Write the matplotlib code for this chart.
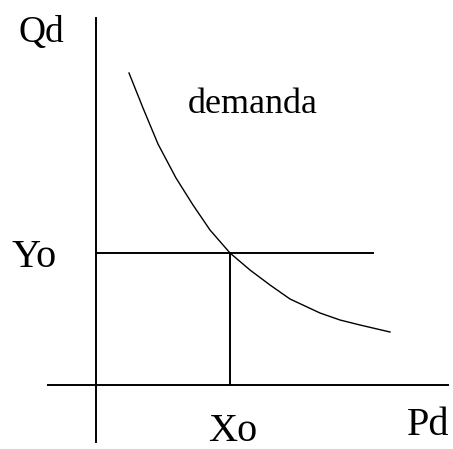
import matplotlib.pyplot as plt

# Demand curve (origin where the two axes cross)
price = [33, 47, 62, 80, 97, 114, 134, 154, 174, 194, 224, 244, 264, 294]
quantity = [312, 277, 241, 207, 180, 155, 132, 115, 100, 86, 72, 65, 60, 53]

# Chosen point on the curve
x0, y0 = 134, 132

plt.rcParams['font.family'] = ['Liberation Serif', 'DejaVu Serif']

fig = plt.figure(figsize=(4.53, 4.49), dpi=100)
ax = fig.add_axes([0, 0, 1, 1])
ax.set_xlim(-96, 357)
ax.set_ylim(-64, 385)
ax.axis('off')

# Axes of the diagram
ax.plot([0, 0], [-57, 367], color='black', linewidth=1.4)
ax.plot([-48, 352], [0, 0], color='black', linewidth=1.4)

# Guide lines to the point
ax.plot([0, 277], [y0, y0], color='black', linewidth=1.4)
ax.plot([x0, x0], [0, y0], color='black', linewidth=1.4)

# Demand curve
ax.plot(price, quantity, color='black', linewidth=1.0)

ax.text(-78, 343, 'Qd', fontsize=27, ha='left', va='baseline')
ax.text(-84, 118, 'Yo', fontsize=29, ha='left', va='baseline')
ax.text(112, -56, 'Xo', fontsize=29, ha='left', va='baseline')
ax.text(311, -50, 'Pd', fontsize=29, ha='left', va='baseline')
ax.text(92, 272, 'demanda', fontsize=26, ha='left', va='baseline')

fig.savefig('out.png', dpi=100, facecolor='white')
